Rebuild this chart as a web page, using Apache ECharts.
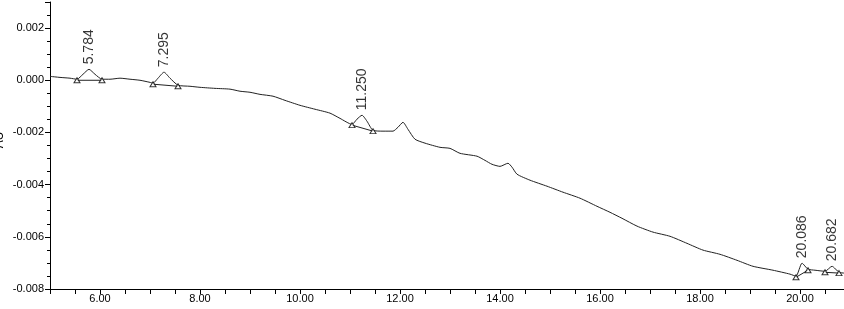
<!DOCTYPE html>
<html><head><meta charset="utf-8">
<script src="https://cdn.jsdelivr.net/npm/echarts@6/dist/echarts.min.js"></script>
<style>html,body{margin:0;padding:0;background:#fff}#c{width:844px;height:309px}</style>
</head><body><div id="c"></div>
<script>
// Trace (retention time in minutes, absorbance in AU)
var traceTimes = [5.00,5.20,5.40,5.54,5.66,5.78,5.90,6.04,6.20,6.40,6.60,6.80,7.00,7.06,7.16,7.28,7.40,7.56,7.80,8.00,8.30,8.60,8.80,9.00,9.20,9.46,9.70,10.00,10.30,10.60,10.80,11.04,11.14,11.24,11.34,11.46,11.66,11.86,11.96,12.06,12.16,12.30,12.50,12.80,13.00,13.20,13.54,13.70,13.84,14.00,14.16,14.24,14.34,14.60,14.94,15.26,15.60,15.94,16.20,16.44,16.74,17.06,17.40,17.74,18.06,18.40,18.74,19.06,19.46,19.80,19.92,20.04,20.16,20.30,20.50,20.64,20.78,20.88];
var traceValues = [0.00015,0.00011,0.00008,0.00004,0.00023,0.00042,0.00023,0.00004,0.00004,0.00008,0.00004,0.0,-0.00008,-0.00011,0.00008,0.00031,0.00008,-0.00019,-0.00023,-0.00027,-0.00031,-0.00034,-0.00042,-0.00046,-0.00054,-0.00061,-0.00077,-0.00096,-0.00111,-0.00126,-0.00146,-0.00169,-0.00149,-0.00134,-0.00157,-0.00192,-0.00195,-0.00195,-0.00180,-0.00161,-0.00188,-0.00226,-0.00241,-0.00257,-0.00261,-0.00280,-0.00291,-0.00307,-0.00322,-0.00330,-0.00318,-0.00333,-0.00360,-0.00383,-0.00406,-0.00429,-0.00452,-0.00483,-0.00506,-0.00529,-0.00559,-0.00582,-0.00598,-0.00625,-0.00651,-0.00667,-0.00690,-0.00713,-0.00728,-0.00743,-0.00751,-0.00701,-0.00724,-0.00728,-0.00732,-0.00713,-0.00736,-0.00739];
// Peaks
var peakLabels = ['5.784','7.295','11.250','20.086','20.682'];
var peakTimes = [5.78,7.28,11.24,20.04,20.64];
var peakValues = [0.00042,0.00031,-0.00134,-0.00701,-0.00713];
// Baseline markers (start/end of each integrated peak)
var markTimes = [5.54,6.04,7.06,7.56,11.04,11.46,19.92,20.16,20.50,20.78];
var markValues = [0.0,0.0,-0.00015,-0.00023,-0.00172,-0.00195,-0.00755,-0.00728,-0.00736,-0.00739];
var yAxisTitle = 'AU';

var trace = traceTimes.map(function(t,i){return [t, traceValues[i]];});
var peaks = peakTimes.map(function(t,i){return {value:[t, peakValues[i]], name: peakLabels[i]};});
var marks = markTimes.map(function(t,i){return [t, markValues[i]];});
var baselineSeries = [];
for (var i = 0; i < markTimes.length; i += 2) {
  baselineSeries.push({type:'line', data:[marks[i], marks[i+1]], symbol:'none', silent:true,
    lineStyle:{color:'#222', width:1}, z:2});
}
var font = 'Liberation Sans, Arial, sans-serif';
var chart = echarts.init(document.getElementById('c'), null, {renderer:'canvas'});
chart.setOption({
  animation:false,
  backgroundColor:'#fff',
  grid:{left:50, right:0, top:2, bottom:20, containLabel:false, outerBoundsMode:'none'},
  graphic:{elements:[{type:'text', x:0, y:140, rotation:Math.PI/2, z:100,
    style:{text:yAxisTitle, fill:'#000', fontSize:12, fontFamily:font, align:'center', verticalAlign:'middle'}}]},
  xAxis:{type:'value', min:5, max:20.88, interval:0.5,
    axisLine:{show:true, onZero:false, lineStyle:{color:'#000', width:1}},
    axisTick:{show:true, length:5, lineStyle:{color:'#000'}},
    splitLine:{show:false},
    axisLabel:{color:'#000', fontSize:11, fontFamily:font, margin:4, showMaxLabel:false,
      formatter:function(v){ var r=Math.round(v*100)/100; return (Math.abs(r%2)<1e-6)? r.toFixed(2):''; }}
  },
  yAxis:{type:'value', min:-0.008, max:0.003, interval:0.002,
    axisLine:{show:true, lineStyle:{color:'#000', width:1}},
    axisTick:{show:true, length:5, lineStyle:{color:'#000'}},
    minorTick:{show:true, splitNumber:4, length:3, lineStyle:{color:'#000'}},
    splitLine:{show:false},
    axisLabel:{color:'#000', fontSize:11, fontFamily:font, margin:6, showMaxLabel:false,
      formatter:function(v){ return v.toFixed(3); }}
  },
  series:[
    {type:'line', data:trace, symbol:'none', smooth:0.2, lineStyle:{color:'#222', width:1}, z:3},
    {type:'scatter', data:peaks, symbol:'circle', symbolSize:2, z:4,
      itemStyle:{color:'rgba(0,0,0,0)'},
      label:{show:true, position:'top', distance:4, rotate:90, align:'left', verticalAlign:'middle',
        color:'#000', fontSize:14, fontFamily:font, formatter:function(p){return p.name;}}},
    {type:'scatter', data:marks, symbol:'triangle', symbolSize:[6,5], z:5,
      itemStyle:{color:'#fff', borderColor:'#000', borderWidth:1}}
  ].concat(baselineSeries)
});
</script></body></html>
